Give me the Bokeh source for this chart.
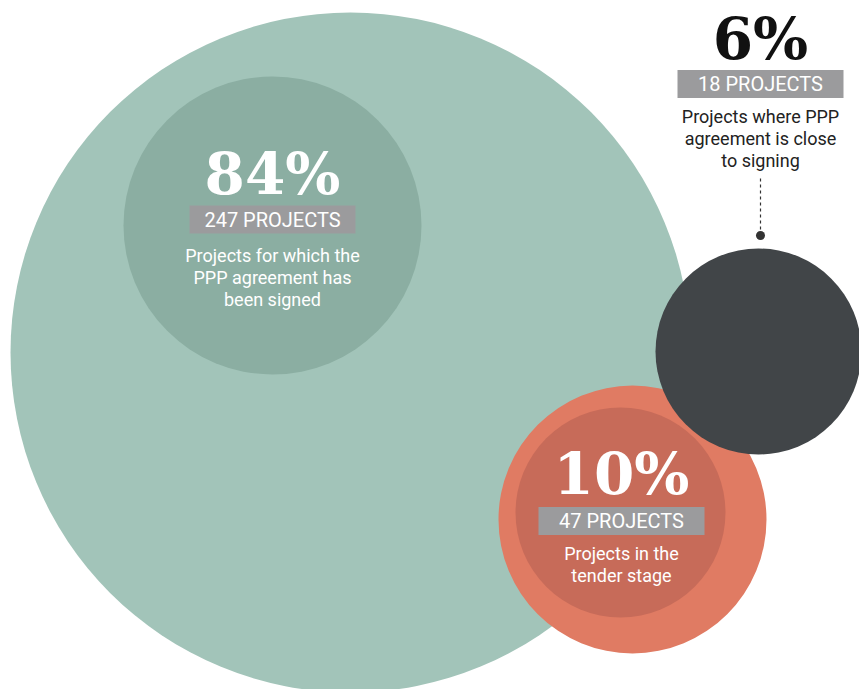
from bokeh.plotting import figure
from bokeh.models import Range1d, ColumnDataSource
from bokeh.core.properties import value
from bokeh.embed import file_html
from bokeh.resources import INLINE

# ---- data ----
stages = ["signed", "tender", "close"]
percent_labels = ["84%", "10%", "6%"]
project_labels = ["247 PROJECTS", "47 PROJECTS", "18 PROJECTS"]
descriptions = [
    "Projects for which the\nPPP agreement has\nbeen signed",
    "Projects in the\ntender stage",
    "Projects where PPP\nagreement is close\nto signing",
]

# ---- layout (pixel coords, y downward) ----
W, H = 859, 689
circ_x = [350, 272, 632, 620, 758]
circ_y = [352, 225, 519, 512, 351]
circ_r = [340, 149, 134, 105, 103]
circ_c = ["#a2c4b9", "#8baea2", "#e07b63", "#c76b59", "#414548"]

lab_x = [272, 621, 760]
pct_y = [173, 473, 38]
pct_color = ["white", "white", "#111111"]
bar_y = [219, 520.5, 83.5]
desc_y = [277, 564, 138]
desc_color = ["white", "white", "#222222"]

p = figure(width=W, height=H, x_range=Range1d(0, W), y_range=Range1d(H, 0),
           output_backend="svg", toolbar_location=None, min_border=0)
p.axis.visible = False
p.grid.visible = False
p.outline_line_color = None
p.background_fill_color = "white"
p.border_fill_color = "white"

p.circle(x=circ_x, y=circ_y, radius=circ_r, fill_color=circ_c, line_color=None)

# connector for the small dark circle
p.segment(x0=[760], y0=[178], x1=[760], y1=[233], line_color="#333333",
          line_width=1.2, line_dash="3 3")
p.circle(x=[760], y=[235], radius=4.5, fill_color="#333333", line_color=None)

src = ColumnDataSource(dict(x=lab_x, pct=percent_labels, proj=project_labels,
                            desc=descriptions, py=pct_y, pc=pct_color,
                            by=bar_y, dy=desc_y, dc=desc_color))

p.rect(x="x", y="by", width=166, height=28, source=src,
       fill_color="#9b9b9d", line_color=None)
p.text(x="x", y="by", text="proj", source=src, text_color="white",
       text_font=value("Roboto"), text_font_size="20px",
       text_align="center", text_baseline="middle")

p.text(x="x", y="py", text="pct", source=src, text_color="pc",
       text_font=value("DejaVu Serif"), text_font_style="bold",
       text_font_size="58px", text_align="center", text_baseline="middle")

p.text(x="x", y="dy", text="desc", source=src, text_color="dc",
       text_font=value("Roboto"), text_font_size="18px", text_line_height=1.05,
       text_align="center", text_baseline="middle")

open("out.html", "w").write(file_html(p, INLINE))
